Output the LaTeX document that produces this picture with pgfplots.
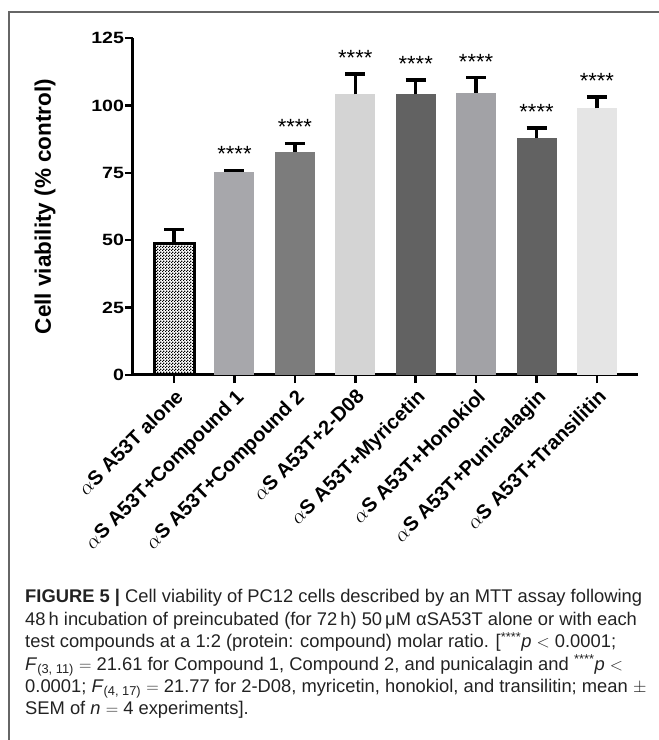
\documentclass[border=0pt]{standalone}
\usepackage{fontspec}
\setmainfont{Liberation Sans}
\newfontfamily\tickfont[FakeStretch=1.2]{Liberation Sans}
\usepackage{pgfplots}
\pgfplotsset{compat=1.18}
\usetikzlibrary{patterns}
\pgfdeclarepatternformonly{fcheck}{\pgfpointorigin}{\pgfqpoint{3pt}{3pt}}{\pgfqpoint{3pt}{3pt}}{%
  \pgfpathrectangle{\pgfpointorigin}{\pgfqpoint{1.5pt}{1.5pt}}%
  \pgfpathrectangle{\pgfqpoint{1.5pt}{1.5pt}}{\pgfqpoint{1.5pt}{1.5pt}}%
  \pgfusepath{fill}}
\definecolor{frame}{HTML}{666666}
\definecolor{cA}{HTML}{A7A7AB}
\definecolor{cB}{HTML}{7C7C7C}
\definecolor{cC}{HTML}{D4D4D4}
\definecolor{cD}{HTML}{626262}
\definecolor{cE}{HTML}{A2A2A6}
\definecolor{cF}{HTML}{E5E5E5}
\definecolor{captxt}{HTML}{222222}
\pgfplotsset{
  mybar/.style={ybar, bar width=40pt, bar shift=0pt, draw=none, fill=#1,
    error bars/.cd, y dir=plus, y explicit,
    error bar style={draw=black, line width=3.5pt},
    error mark options={draw=black, rotate=90, mark size=10pt, line width=3.5pt}}
}
\begin{document}
\begin{tikzpicture}[x=1pt,y=1pt]
\path[use as bounding box] (0,0) rectangle (659,740);
\draw[line width=1.5pt, color=frame] (9,0) -- (9,728) -- (659,728);
\begin{axis}[
  at={(133pt,365pt)}, anchor=south west,
  scale only axis, width=505pt, height=337pt,
  xmin=-0.68, xmax=7.68, ymin=0, ymax=125,
  axis x line*=bottom, axis y line*=left,
  axis line style={line width=3pt, black},
  ytick={0,25,...,125},
  xtick={0,1,...,7},
  xticklabels={{$\alpha$S A53T alone},{$\alpha$S A53T+Compound 1},{$\alpha$S A53T+Compound 2},{$\alpha$S A53T+2-D08},{$\alpha$S A53T+Myricetin},{$\alpha$S A53T+Honokiol},{$\alpha$S A53T+Punicalagin},{$\alpha$S A53T+Transilitin}},
  tick align=outside, major tick length=8pt,
  tick style={line width=2.5pt, black},
  /pgf/number format/assume math mode=true,
  yticklabel style={font=\tickfont\bfseries\fontsize{16.3}{20}\selectfont, xshift=2.5pt},
  xticklabel style={rotate=45, anchor=north east, font=\bfseries\fontsize{20}{24}\selectfont},
  ylabel={Cell viability (\% control)},
  ylabel style={font=\bfseries\fontsize{22.5}{27}\selectfont, at={(axis description cs:-0.174,0.5)}, anchor=center},
  clip=false,
]
\addplot[ybar, bar width=40pt, bar shift=0pt, draw=black, line width=3pt, pattern=fcheck, pattern color=black,
  error bars/.cd, y dir=plus, y explicit,
  error bar style={draw=black, line width=3.5pt},
  error mark options={draw=black, rotate=90, mark size=10pt, line width=3.5pt}]
  coordinates {(0,48.8) +- (0,5.2)};
\addplot[mybar=cA] coordinates {(1,75.4) +- (0,0.5)};
\addplot[mybar=cB] coordinates {(2,82.7) +- (0,3.2)};
\addplot[mybar=cC] coordinates {(3,104.1) +- (0,7.5)};
\addplot[mybar=cD] coordinates {(4,104.1) +- (0,5.3)};
\addplot[mybar=cE] coordinates {(5,104.7) +- (0,5.6)};
\addplot[mybar=cD] coordinates {(6,87.8) +- (0,3.9)};
\addplot[mybar=cF] coordinates {(7,98.9) +- (0,4.3)};
\addplot[draw=none, mark=none, nodes near coords={****},
  every node near coord/.append style={anchor=base, yshift=8.5pt, font=\fontsize{22}{26}\selectfont, text=black}]
  coordinates {(1,75.9) (2,85.9) (3,111.6) (4,109.4) (5,110.3) (6,91.7) (7,103.2)};
\end{axis}
\begin{scope}[every node/.style={anchor=base west, inner sep=0pt, font=\fontsize{18.35}{22}\selectfont, text=captxt}]
\node at (25,137) {\textbf{FIGURE 5 |} Cell viability of PC12 cells described by an MTT assay following};
\node at (25,114.6) {48\,h incubation of preincubated (for 72\,h) 50\,μM αSA53T alone or with each};
\node at (25,92.2) {test compounds at a 1:2 (protein: compound) molar ratio. [\textsuperscript{****}\textit{p} $<$ 0.0001;};
\node at (25,69.8) {\textit{F}\textsubscript{(3, 11)} $=$ 21.61 for Compound 1, Compound 2, and punicalagin and \textsuperscript{****}\textit{p} $<$};
\node at (25,47.4) {0.0001; \textit{F}\textsubscript{(4, 17)} $=$ 21.77 for 2-D08, myricetin, honokiol, and transilitin; mean $\pm$};
\node at (25,25) {SEM of \textit{n} $=$ 4 experiments].};
\end{scope}
\end{tikzpicture}
\end{document}
